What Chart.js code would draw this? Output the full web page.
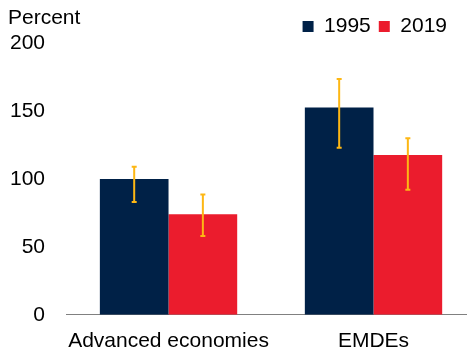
<!DOCTYPE html>
<html>
<head>
<meta charset="utf-8">
<script src="https://cdn.jsdelivr.net/npm/chart.js@4"></script>
<style>
  body { margin: 0; background: #fff; }
  #wrap { width: 467px; height: 353px; }
</style>
</head>
<body>
<div id="wrap"><canvas id="chart"></canvas></div>
<script>
const categories = ['Advanced economies', 'EMDEs'];
const values1995 = [100, 152.5];
const values2019 = [74, 117.5];
const low1995 = [83, 123];
const high1995 = [109, 173.5];
const low2019 = [58, 92];
const high2019 = [88.5, 130];
const yTicks = [0, 50, 100, 150, 200];

const FONT = 'Liberation Sans, Arial, sans-serif';
const ranges = [[low1995, high1995], [low2019, high2019]];

const errorBars = {
  id: 'errorBars',
  afterDatasetsDraw(chart) {
    const ctx = chart.ctx;
    const y = chart.scales.y;
    ctx.save();
    ctx.strokeStyle = '#FDB714';
    ctx.lineWidth = 2;
    chart.data.datasets.forEach((ds, i) => {
      const [lo, hi] = ranges[i];
      chart.getDatasetMeta(i).data.forEach((bar, j) => {
        const x = bar.x;
        const yl = y.getPixelForValue(lo[j]);
        const yh = y.getPixelForValue(hi[j]);
        ctx.beginPath();
        ctx.moveTo(x, yl); ctx.lineTo(x, yh);
        ctx.moveTo(x - 2.5, yl); ctx.lineTo(x + 2.5, yl);
        ctx.moveTo(x - 2.5, yh); ctx.lineTo(x + 2.5, yh);
        ctx.stroke();
      });
    });
    ctx.restore();
  }
};

// "Percent" unit label, legend nudge, and x axis running past the right edge
const extras = {
  id: 'extras',
  afterLayout(chart) {
    const lg = chart.legend;
    lg.left -= 12; lg.right -= 12;
    lg.top += 4; lg.bottom += 4;
    const x = chart.scales.x;
    x.right = 476;
    x.width = x.right - x.left;
    x.configure();
  },
  afterDraw(chart) {
    const ctx = chart.ctx;
    ctx.save();
    ctx.font = '21px ' + FONT;
    ctx.fillStyle = '#000';
    ctx.textBaseline = 'middle';
    ctx.fillText('Percent', 8, 18);
    ctx.restore();
  }
};

new Chart(document.getElementById('chart'), {
  type: 'bar',
  data: {
    labels: categories,
    datasets: [
      { label: '1995', data: values1995, backgroundColor: '#002147' },
      { label: '2019', data: values2019, backgroundColor: '#EB1C2D' }
    ]
  },
  options: {
    responsive: true,
    maintainAspectRatio: false,
    animation: false,
    layout: { padding: { left: -3, right: 0, top: 4, bottom: -7 } },
    datasets: { bar: { categoryPercentage: 0.67, barPercentage: 1.0 } },
    plugins: {
      legend: {
        position: 'top',
        align: 'end',
        labels: {
          boxWidth: 11, boxHeight: 11, padding: 8,
          color: '#000', font: { family: FONT, size: 21 }
        }
      },
      tooltip: { enabled: false }
    },
    scales: {
      x: {
        grid: { display: false },
        border: { color: '#808080', width: 1 },
        ticks: {
          color: '#000', font: { family: FONT, size: 21 }, padding: 6,
          maxRotation: 0, minRotation: 0, autoSkip: false
        },
        afterFit(s) { s.paddingLeft = 0; s.paddingRight = 0; }
      },
      y: {
        min: 0, max: 200,
        afterBuildTicks: (s) => { s.ticks = yTicks.map(v => ({ value: v })); },
        grid: { display: false },
        border: { display: false },
        ticks: { color: '#000', font: { family: FONT, size: 21 }, padding: 13 }
      }
    }
  },
  plugins: [errorBars, extras]
});
</script>
</body>
</html>
